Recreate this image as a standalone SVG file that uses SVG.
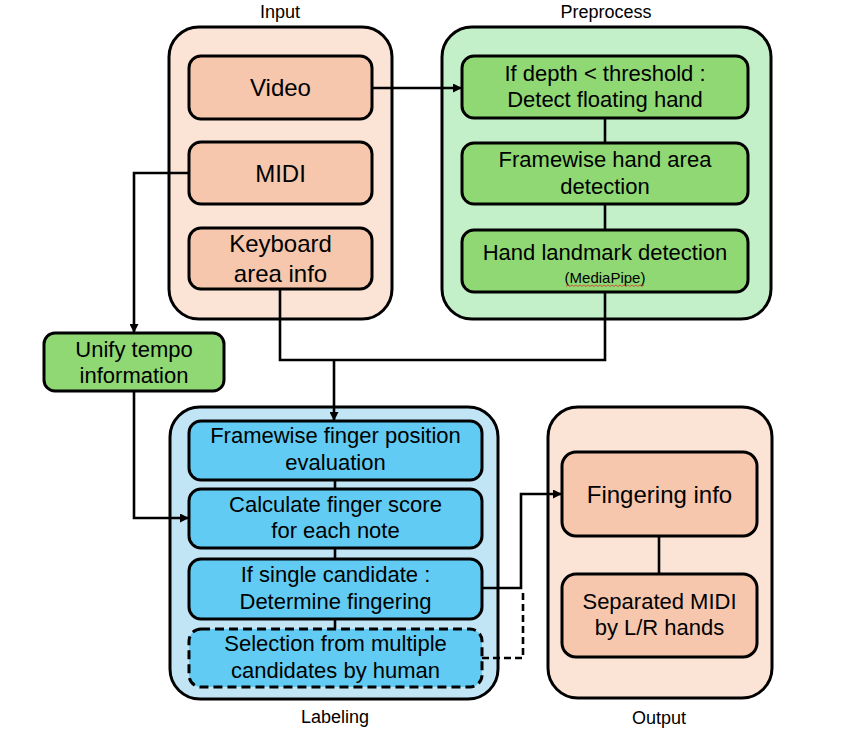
<svg xmlns="http://www.w3.org/2000/svg" width="866" height="730" viewBox="0 0 866 730">
<style>
  text { font-family: "Liberation Sans", Arial, sans-serif; fill: #000; text-anchor: middle; }
  .lbl { font-size: 18px; }
  .t24 { font-size: 24px; }
  .t22 { font-size: 22px; }
  .small { font-size: 15px; }
  .cont { stroke: #000; stroke-width: 3; }
  .box { stroke: #000; stroke-width: 3; }
  .peachC { fill: #FBE4D6; }
  .peach { fill: #F6C7AD; }
  .greenC { fill: #C3F0C8; }
  .green { fill: #8FD873; }
  .blueC { fill: #C2E5F5; }
  .blue { fill: #61CBF3; }
  .dash { stroke-dasharray: 9 5; }
  .conn { fill: none; stroke: #000; stroke-width: 2.6; }
  .conn-dash { fill: none; stroke: #000; stroke-width: 2.6; stroke-dasharray: 7 4; }
</style>
<defs>
  <marker id="arrow" viewBox="0 0 10 10" refX="10" refY="5" markerWidth="9" markerHeight="9" markerUnits="userSpaceOnUse" orient="auto">
    <path d="M0,0 L10,5 L0,10 z" fill="#000"/>
  </marker>
</defs>

<rect width="866" height="730" fill="#fff"/>

<!-- Containers -->
<g id="input-group">
  <rect class="cont peachC" x="169" y="27" width="223" height="292" rx="30"/>
  <text class="lbl" x="280" y="18">Input</text>
</g>
<g id="preprocess-group">
  <rect class="cont greenC" x="442" y="27" width="329" height="292" rx="30"/>
  <text class="lbl" x="606" y="18">Preprocess</text>
</g>
<g id="labeling-group">
  <rect class="cont blueC" x="170" y="407" width="328" height="292" rx="30"/>
  <text class="lbl" x="335" y="723">Labeling</text>
</g>
<g id="output-group">
  <rect class="cont peachC" x="548" y="407" width="224" height="291" rx="30"/>
  <text class="lbl" x="659" y="724">Output</text>
</g>

<!-- Connectors -->
<g id="connectors">
  <path class="conn" d="M372,88 H462" marker-end="url(#arrow)"/>
  <path class="conn" d="M605,118 V143"/>
  <path class="conn" d="M605,204 V230"/>
  <path class="conn" d="M189,173 H134 V333" marker-end="url(#arrow)"/>
  <path class="conn" d="M280,289 V360 H605 V292"/>
  <path class="conn" d="M334,360 V421" marker-end="url(#arrow)"/>
  <path class="conn" d="M134,391 V518 H189" marker-end="url(#arrow)"/>
  <path class="conn" d="M335,480 V489"/>
  <path class="conn" d="M335,548 V559"/>
  <path class="conn" d="M335,619 V629"/>
  <path class="conn" d="M482,588 H521 V494 H562" marker-end="url(#arrow)"/>
  <path class="conn-dash" d="M482,658 H523 V590"/>
  <path class="conn" d="M659,536 V574"/>
</g>

<!-- Input nodes -->
<g id="video">
  <rect class="box peach" x="189" y="56" width="183" height="63" rx="12"/>
  <text class="t24" x="280.5" y="96">Video</text>
</g>
<g id="midi">
  <rect class="box peach" x="189" y="142" width="183" height="62" rx="12"/>
  <text class="t24" x="280.5" y="182">MIDI</text>
</g>
<g id="keyboard">
  <rect class="box peach" x="189" y="228" width="183" height="61" rx="12"/>
  <text class="t24" x="280.5" y="252">Keyboard</text>
  <text class="t24" x="280.5" y="282">area info</text>
</g>

<!-- Preprocess nodes -->
<g id="floating">
  <rect class="box green" x="462" y="56" width="286" height="62" rx="12"/>
  <text class="t22" x="605" y="81">If depth &lt; threshold :</text>
  <text class="t22" x="605" y="107">Detect floating hand</text>
</g>
<g id="hand-area">
  <rect class="box green" x="462" y="143" width="286" height="61" rx="12"/>
  <text class="t22" x="605" y="167">Framewise hand area</text>
  <text class="t22" x="605" y="194">detection</text>
</g>
<g id="landmark">
  <rect class="box green" x="462" y="230" width="286" height="62" rx="12"/>
  <text class="t22" x="605" y="260">Hand landmark detection</text>
  <text class="small" x="605" y="283">(MediaPipe)</text>
  <path d="M566,286.5 l2,-1.5 l2,1.5 l2,-1.5 l2,1.5 l2,-1.5 l2,1.5 l2,-1.5 l2,1.5 l2,-1.5 l2,1.5 l2,-1.5 l2,1.5 l2,-1.5 l2,1.5 l2,-1.5 l2,1.5 l2,-1.5 l2,1.5 l2,-1.5 l2,1.5 l2,-1.5 l2,1.5 l2,-1.5 l2,1.5 l2,-1.5 l2,1.5 l2,-1.5 l2,1.5 l2,-1.5 l2,1.5 l2,-1.5 l2,1.5 l2,-1.5 l2,1.5 l2,-1.5 l2,1.5 l2,-1.5 l2,1.5 l2,-1.5" fill="none" stroke="#E03030" stroke-width="0.8"/>
</g>

<!-- Unify -->
<g id="unify">
  <rect class="box green" x="44" y="333" width="180" height="58" rx="11"/>
  <text class="t22" x="134" y="357">Unify tempo</text>
  <text class="t22" x="134" y="383">information</text>
</g>

<!-- Labeling nodes -->
<g id="finger-pos">
  <rect class="box blue" x="189" y="421" width="293" height="59" rx="12"/>
  <text class="t22" x="335.5" y="443">Framewise finger position</text>
  <text class="t22" x="335.5" y="470">evaluation</text>
</g>
<g id="finger-score">
  <rect class="box blue" x="189" y="489" width="293" height="59" rx="12"/>
  <text class="t22" x="335.5" y="512">Calculate finger score</text>
  <text class="t22" x="335.5" y="538">for each note</text>
</g>
<g id="single">
  <rect class="box blue" x="189" y="559" width="293" height="60" rx="12"/>
  <text class="t22" x="335.5" y="582">If single candidate :</text>
  <text class="t22" x="335.5" y="609">Determine fingering</text>
</g>
<g id="multiple">
  <rect class="box blue dash" x="189" y="629" width="293" height="58" rx="12"/>
  <text class="t22" x="335.5" y="651">Selection from multiple</text>
  <text class="t22" x="335.5" y="678">candidates by human</text>
</g>

<!-- Output nodes -->
<g id="fingering">
  <rect class="box peach" x="562" y="452" width="195" height="84" rx="14"/>
  <text class="t24" x="659.5" y="503">Fingering info</text>
</g>
<g id="separated">
  <rect class="box peach" x="562" y="574" width="195" height="83" rx="14"/>
  <text class="t22" x="659.5" y="609">Separated MIDI</text>
  <text class="t22" x="659.5" y="635">by L/R hands</text>
</g>
</svg>
